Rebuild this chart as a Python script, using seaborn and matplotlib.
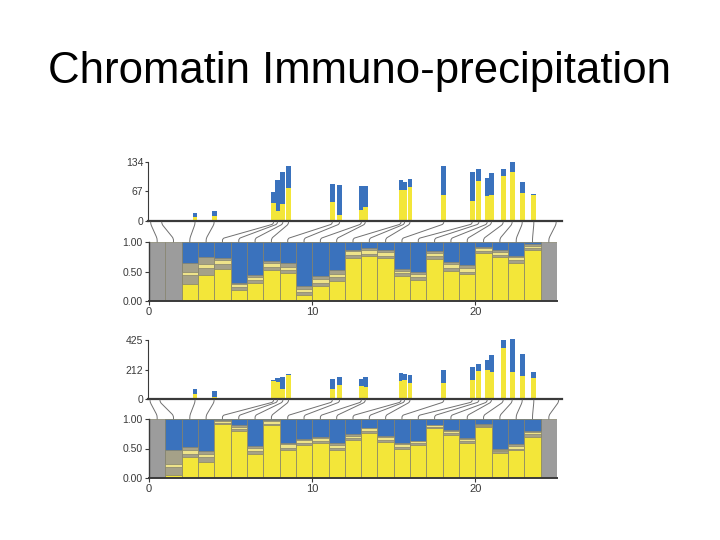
import matplotlib
matplotlib.use('Agg')
import matplotlib.pyplot as plt
from matplotlib.patches import ConnectionPatch
import numpy as np
import pandas as pd
import seaborn as sns

title = 'Chromatin Immuno-precipitation'

# ---- panel 1 (upper) ----
# top bars: position (in column units), total height, yellow part
pos1 = [0.10, 0.78, 2.82, 3.99, 7.63, 7.87, 8.20, 8.55, 11.23, 11.68, 13.01, 13.25,
        15.44, 15.66, 15.99, 18.06, 19.80, 20.21, 20.72, 20.98, 21.70, 22.25, 22.87, 23.58, 24.95]
tot1 = [0, 0, 18, 23, 65, 94, 111, 126, 84, 82, 80, 80, 92, 88, 96, 125, 111, 117, 98, 109,
        119, 134, 89, 62, 0]
yel1 = [0, 0, 9, 11, 40, 23, 38, 75, 44, 13, 25, 32, 71, 71, 77, 59, 46, 90, 57, 59,
        103, 111, 63, 58, 0]
yticks1 = [0, 67, 134]
first1 = 2   # first coloured column, columns before it and the last one are grey
# column boundaries (yellow / grey / yellow / grey / blue)
a1 = [0.28, 0.44, 0.55, 0.19, 0.30, 0.53, 0.47, 0.11, 0.26, 0.34, 0.73, 0.76, 0.73, 0.43,
      0.35, 0.71, 0.51, 0.46, 0.81, 0.74, 0.65, 0.86]
b1 = [0.44, 0.56, 0.63, 0.23, 0.35, 0.58, 0.53, 0.16, 0.31, 0.40, 0.78, 0.80, 0.77, 0.47,
      0.40, 0.76, 0.56, 0.50, 0.85, 0.78, 0.69, 0.90]
c1 = [0.49, 0.62, 0.69, 0.28, 0.40, 0.64, 0.58, 0.21, 0.37, 0.46, 0.84, 0.86, 0.83, 0.51,
      0.46, 0.81, 0.62, 0.56, 0.89, 0.83, 0.74, 0.94]
d1 = [0.65, 0.74, 0.73, 0.31, 0.44, 0.67, 0.64, 0.26, 0.42, 0.52, 0.87, 0.90, 0.86, 0.54,
      0.50, 0.84, 0.66, 0.61, 0.91, 0.86, 0.77, 0.96]

# ---- panel 2 (lower) ----
pos2 = [0.06, 0.67, 2.82, 3.99, 7.63, 7.87, 8.20, 8.55, 11.23, 11.68, 13.01, 13.25,
        15.44, 15.66, 15.99, 18.06, 19.80, 20.21, 20.72, 20.98, 21.70, 22.25, 22.87, 23.58, 25.10]
tot2 = [0, 0, 72, 58, 137, 149, 161, 178, 142, 161, 144, 156, 185, 178, 175, 209, 228, 250,
        281, 317, 425, 430, 322, 194, 0]
yel2 = [0, 0, 34, 17, 130, 125, 70, 170, 70, 98, 94, 84, 132, 137, 113, 113, 137, 204,
        209, 197, 367, 192, 166, 149, 0]
yticks2 = [0, 212, 425]
first2 = 1
a2 = [0.045, 0.35, 0.27, 0.92, 0.80, 0.41, 0.90, 0.47, 0.56, 0.59, 0.47, 0.64, 0.76, 0.61,
      0.50, 0.56, 0.84, 0.73, 0.60, 0.87, 0.43, 0.47, 0.70]
b2 = [0.18, 0.40, 0.35, 0.94, 0.83, 0.46, 0.92, 0.51, 0.59, 0.62, 0.51, 0.67, 0.79, 0.65,
      0.53, 0.59, 0.86, 0.76, 0.62, 0.88, 0.45, 0.50, 0.74]
c2 = [0.24, 0.47, 0.40, 0.97, 0.87, 0.51, 0.96, 0.57, 0.64, 0.67, 0.56, 0.72, 0.84, 0.70,
      0.57, 0.62, 0.89, 0.80, 0.66, 0.90, 0.48, 0.55, 0.78]
d2 = [0.48, 0.52, 0.45, 0.99, 0.89, 0.54, 0.98, 0.60, 0.66, 0.70, 0.60, 0.74, 0.85, 0.71,
      0.59, 0.63, 0.90, 0.81, 0.67, 0.91, 0.49, 0.57, 0.80]

ncols = 25
xticks = [0, 10, 20]
frac_ticks = [0.0, 0.5, 1.0]

BLUE = '#3a72bd'
YEL = '#f3e639'
YEL2 = '#eee38a'
STRIPE = '#a5a188'
GREY = '#9c9c9c'
EDGE = '#85836c'
INK = '#3a3a3a'

sns.set_style('ticks')
plt.rcParams['font.family'] = ['Liberation Sans', 'DejaVu Sans']
tickfont = ['Liberation Sans Narrow', 'Liberation Sans', 'DejaVu Sans']

fig = plt.figure(figsize=(7.2, 5.4), dpi=100)
fig.text(0.5, 1 - 83 / 540, title, ha='center', va='baseline', fontsize=31.5, color='black')


def draw_top(ax, pos, tot, yel, yticks):
    df = pd.DataFrame({'pos': pos, 'tot': tot, 'yel': yel})
    df = df[df.tot > 0]
    w = 0.30 / np.diff(np.unique(df.pos)).min()
    sns.barplot(data=df, x='pos', y='tot', native_scale=True, orient='x', width=w,
                color=BLUE, saturation=1, errorbar=None, linewidth=0, ax=ax)
    sns.barplot(data=df, x='pos', y='yel', native_scale=True, orient='x', width=w,
                color=YEL, saturation=1, errorbar=None, linewidth=0, ax=ax)
    ax.set_xlim(-0.05, 25.3)
    ax.set_ylim(0, yticks[-1] * 1.015)
    ax.set_xlabel('')
    ax.set_ylabel('')
    ax.set_xticks([])
    ax.set_yticks(yticks)
    ax.set_yticklabels([str(t) for t in yticks], family=tickfont, fontsize=7.5, color=INK)
    ax.spines[['top', 'right']].set_visible(False)
    ax.spines['left'].set_bounds(0, yticks[-1])
    ax.spines['left'].set_linewidth(0.8)
    ax.spines['left'].set_color(INK)
    ax.spines['bottom'].set_linewidth(1.6)
    ax.spines['bottom'].set_color(INK)
    ax.tick_params(axis='y', length=2.5, width=0.8, pad=1, color=INK)


def draw_cols(ax, first, a, b, c, d):
    allx = np.arange(ncols) + 0.5
    x = np.arange(first, first + len(a)) + 0.5
    kw = dict(native_scale=True, orient='x', width=1, saturation=1, errorbar=None,
              edgecolor=EDGE, linewidth=0.5, ax=ax)
    sns.barplot(x=allx, y=np.ones(ncols), color=GREY, **kw)
    sns.barplot(x=x, y=np.ones(len(x)), color=BLUE, **kw)
    sns.barplot(x=x, y=d, color=STRIPE, **kw)
    sns.barplot(x=x, y=c, color=YEL2, **kw)
    sns.barplot(x=x, y=b, color=STRIPE, **kw)
    sns.barplot(x=x, y=a, color=YEL, **kw)
    ax.set_xlim(0, ncols)
    ax.set_ylim(0, 1)
    ax.set_xlabel('')
    ax.set_ylabel('')
    ax.set_xticks(xticks)
    ax.set_xticklabels([str(t) for t in xticks], family=tickfont, fontsize=8, color=INK)
    ax.set_yticks(frac_ticks)
    ax.set_yticklabels(['%.2f' % t for t in frac_ticks], family=tickfont, fontsize=7.5, color=INK)
    ax.spines[['top', 'right']].set_visible(False)
    ax.spines['left'].set_color(INK)
    ax.spines['left'].set_linewidth(1.0)
    ax.spines['bottom'].set_color(INK)
    ax.spines['bottom'].set_linewidth(1.4)
    ax.tick_params(axis='both', length=3, width=0.8, pad=1.5, color=INK)


def connect(ax_top, ax_bot, pos):
    for i, p in enumerate(pos):
        con = ConnectionPatch(xyA=(p, 0), coordsA='data', axesA=ax_top,
                              xyB=(i + 0.5, 1), coordsB='data', axesB=ax_bot,
                              connectionstyle='arc,angleA=-90,armA=3,angleB=90,armB=3.5,rad=2',
                              color='#707070', lw=0.7, shrinkA=0.8, shrinkB=0)
        fig.add_artist(con)


W = 720.0
H = 540.0
top_l, top_w = 148.2 / W, 413.7 / W
bot_l, bot_w = 149 / W, 408 / W

ax1t = fig.add_axes([top_l, (H - 221) / H, top_w, 59.9 / H])
ax1b = fig.add_axes([bot_l, (H - 301) / H, bot_w, 59 / H])
ax2t = fig.add_axes([top_l, (H - 399) / H, top_w, 60 / H])
ax2b = fig.add_axes([bot_l, (H - 478) / H, bot_w, 59 / H])

draw_top(ax1t, pos1, tot1, yel1, yticks1)
draw_cols(ax1b, first1, a1, b1, c1, d1)
connect(ax1t, ax1b, pos1)

draw_top(ax2t, pos2, tot2, yel2, yticks2)
draw_cols(ax2b, first2, a2, b2, c2, d2)
connect(ax2t, ax2b, pos2)

fig.savefig('out.png', dpi=100)
